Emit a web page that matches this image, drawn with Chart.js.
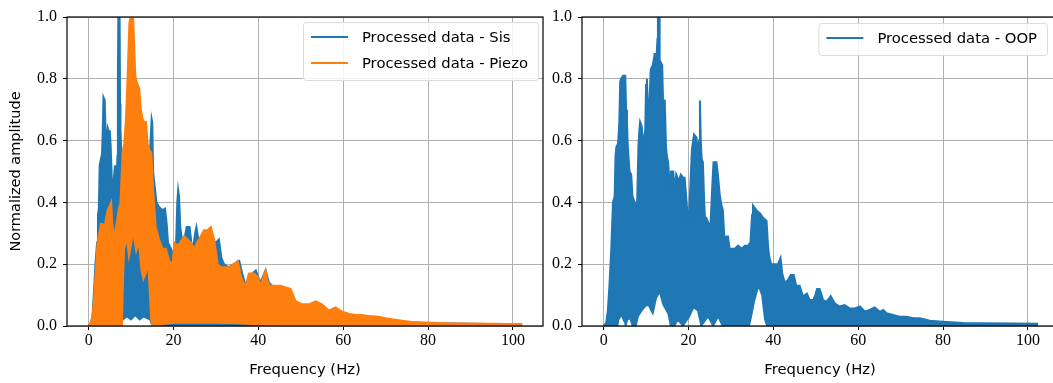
<!DOCTYPE html>
<html>
<head>
<meta charset="utf-8">
<script src="https://cdn.jsdelivr.net/npm/chart.js@4.4.1/dist/chart.umd.min.js"></script>
<style>
  html, body { margin: 0; padding: 0; background: #fff; overflow: hidden; }
  body { width: 1053px; height: 383px; position: relative; }
  canvas { position: absolute; top: 0; }
  #chart-left { left: 0; }
  #chart-right { left: 545px; }
</style>
</head>
<body>
<canvas id="chart-left" width="548" height="383"></canvas>
<canvas id="chart-right" width="515" height="383"></canvas>
<script>
// Spectra envelopes, [frequency (Hz), normalized amplitude]
// The raw FFT lines swing between a floor and a peak envelope, so each
// trace is kept as its two envelopes and the band between them is filled.

const sisPeak = [
  [0, 0], [0.5, 0.01], [0.9, 0.03], [1.3, 0.12], [1.6, 0.2], [2.0, 0.27],
  [2.2, 0.36], [2.4, 0.38], [2.6, 0.52], [2.9, 0.54], [3.1, 0.53], [3.3, 0.62],
  [3.5, 0.74], [3.8, 0.73], [4.0, 0.62], [4.2, 0.6], [4.5, 0.64], [4.7, 0.63],
  [5.0, 0.63], [5.2, 0.58], [5.4, 0.5], [5.6, 0.4], [5.9, 0.47], [6.2, 0.52],
  [6.5, 0.45], [6.8, 0.55], [6.9, 0.8], [7.0, 1.0], [7.3, 1.0], [7.4, 0.72],
  [7.5, 0.64], [7.7, 0.56], [8.0, 0.5], [8.5, 0.47], [9.5, 0.48], [11, 0.45],
  [12.5, 0.46], [13.5, 0.44], [14.2, 0.5], [14.6, 0.6], [14.85, 0.67], [15.0, 0.66],
  [15.2, 0.5], [15.5, 0.46], [16.0, 0.4], [16.6, 0.385], [17.4, 0.375], [18.0, 0.38],
  [18.4, 0.33], [18.7, 0.27], [19.4, 0.25], [20.0, 0.23], [20.6, 0.26], [20.9, 0.4],
  [21.1, 0.44], [21.3, 0.42], [21.6, 0.32], [22.1, 0.27], [22.7, 0.29], [23.1, 0.32],
  [23.8, 0.32], [24.2, 0.27], [24.6, 0.25], [25.1, 0.3], [25.4, 0.32], [26.0, 0.27],
  [27.0, 0.28], [28.0, 0.27], [29.0, 0.28], [30.0, 0.27], [30.7, 0.28], [31.3, 0.22],
  [31.9, 0.2], [33.0, 0.19], [34.2, 0.2], [35.5, 0.21], [36.2, 0.17], [37.0, 0.13],
  [37.8, 0.16], [39.4, 0.18], [40.5, 0.14], [41.7, 0.18], [42.5, 0.14], [44, 0.12],
  [46, 0.11], [48, 0.07], [50, 0.06], [52, 0.06], [55, 0.05], [58, 0.04],
  [62, 0.03], [66, 0.025], [70, 0.018], [75, 0.012], [80, 0.009], [90, 0.007],
  [102.2, 0.005]
];
const sisFloor = [
  [0, 0], [7.8, 0], [8.0, 0.02], [9.0, 0.03], [10.0, 0.02], [11.0, 0.035],
  [12.0, 0.02], [13.0, 0.03], [14.5, 0.02], [15.0, 0], [102.2, 0]
];

const piezoPeak = [
  [0, 0], [0.5, 0.01], [0.9, 0.03], [1.3, 0.09], [1.6, 0.16], [2.1, 0.27],
  [2.5, 0.3], [2.9, 0.33], [3.3, 0.33], [3.7, 0.31], [4.1, 0.35], [4.5, 0.375],
  [5.0, 0.39], [5.3, 0.4], [5.6, 0.33], [6.0, 0.28], [6.3, 0.31], [6.7, 0.34],
  [7.0, 0.37], [7.5, 0.4], [8.0, 0.56], [8.4, 0.59], [8.8, 0.67], [9.2, 0.81],
  [9.6, 0.98], [9.9, 1.0], [10.5, 1.0], [10.8, 0.88], [11.0, 0.81], [11.3, 0.79],
  [11.9, 0.77], [12.3, 0.7], [12.7, 0.67], [13.1, 0.66], [13.5, 0.66], [13.9, 0.59],
  [14.3, 0.57], [14.8, 0.56], [15.2, 0.44], [15.8, 0.32], [16.6, 0.28], [17.4, 0.25],
  [18.2, 0.25], [19.0, 0.21], [19.8, 0.2], [20.2, 0.27], [20.9, 0.26], [21.6, 0.27],
  [22.5, 0.29], [23.3, 0.28], [24.1, 0.27], [24.9, 0.25], [25.6, 0.27], [26.4, 0.29],
  [27.2, 0.31], [28.0, 0.31], [28.8, 0.32], [29.2, 0.3], [29.6, 0.28], [30.0, 0.24],
  [30.4, 0.2], [31.2, 0.19], [32.0, 0.19], [33.1, 0.19], [34.3, 0.2], [35.1, 0.21],
  [35.5, 0.19], [35.9, 0.16], [36.5, 0.14], [37.0, 0.13], [37.8, 0.17], [38.4, 0.17],
  [39.0, 0.17], [39.8, 0.16], [40.6, 0.13], [41.2, 0.16], [41.7, 0.18], [42.1, 0.15],
  [42.5, 0.13], [43.3, 0.13], [44.1, 0.13], [45.3, 0.13], [46.4, 0.125], [47.6, 0.12],
  [48.2, 0.1], [48.8, 0.08], [49.6, 0.075], [50.4, 0.07], [51.9, 0.07], [53.5, 0.08],
  [55.0, 0.07], [56.6, 0.05], [58.2, 0.06], [59.8, 0.046], [61.3, 0.04], [62.9, 0.036],
  [64.5, 0.036], [66.0, 0.032], [68.3, 0.03], [70.0, 0.025], [71.5, 0.022], [73.9, 0.017],
  [76.2, 0.013], [79.4, 0.011], [83.3, 0.009], [87.2, 0.008], [95.0, 0.007], [102.1, 0.006]
];
const piezoFloor = [
  [0, 0], [7.9, 0], [8.1, 0.12], [8.4, 0.25], [9.0, 0.28], [9.5, 0.22],
  [10.0, 0.26], [10.5, 0.3], [11.2, 0.24], [11.8, 0.27], [12.4, 0.18], [12.9, 0.15],
  [13.5, 0.17], [14.0, 0.2], [14.4, 0.1], [14.7, 0.02], [15.0, 0], [17, 0.005],
  [20, 0.01], [25, 0.01], [30, 0.01], [35, 0.008], [40, 0.005], [45, 0],
  [102.1, 0]
];

const oopPeak = [
  [0, 0], [0.6, 0.01], [1.0, 0.05], [1.4, 0.14], [1.8, 0.25], [2.2, 0.4],
  [2.6, 0.42], [2.8, 0.55], [3.0, 0.58], [3.4, 0.59], [3.7, 0.66], [3.9, 0.79],
  [4.1, 0.8], [4.6, 0.81], [5.1, 0.81], [5.3, 0.7], [5.5, 0.66], [5.7, 0.58],
  [6.1, 0.5], [6.5, 0.49], [6.8, 0.42], [7.3, 0.4], [7.9, 0.4], [8.2, 0.58],
  [8.4, 0.63], [8.6, 0.66], [9.0, 0.645], [9.3, 0.55], [9.6, 0.62], [9.8, 0.63],
  [10.0, 0.78], [10.2, 0.8], [10.4, 0.72], [10.8, 0.72], [11.1, 0.83], [11.6, 0.845],
  [11.9, 0.87], [12.0, 0.88], [12.5, 0.88], [12.7, 0.93], [12.8, 1.0], [13.1, 1.0],
  [13.2, 0.86], [13.8, 0.845], [14.0, 0.73], [14.4, 0.73], [14.7, 0.58], [14.9, 0.55],
  [15.2, 0.53], [15.6, 0.44], [15.9, 0.5], [16.4, 0.5], [16.7, 0.44], [17.1, 0.49],
  [17.7, 0.47], [18.2, 0.49], [18.7, 0.48], [19.1, 0.48], [19.5, 0.41], [20.0, 0.32],
  [20.4, 0.44], [20.8, 0.57], [21.3, 0.62], [21.9, 0.61], [22.2, 0.54], [22.5, 0.6],
  [22.7, 0.73], [22.9, 0.6], [23.1, 0.54], [23.4, 0.53], [23.7, 0.4], [23.9, 0.35],
  [24.2, 0.35], [24.8, 0.33], [25.2, 0.33], [25.6, 0.45], [25.9, 0.53], [26.6, 0.53],
  [27.0, 0.48], [27.4, 0.42], [27.8, 0.39], [28.1, 0.375], [28.5, 0.27], [28.9, 0.29],
  [29.3, 0.29], [29.7, 0.25], [30.1, 0.25], [30.9, 0.25], [31.7, 0.26], [32.5, 0.25],
  [33.3, 0.26], [34.0, 0.26], [34.6, 0.27], [35.0, 0.36], [35.2, 0.39], [36.0, 0.375],
  [36.8, 0.365], [37.6, 0.35], [38.4, 0.34], [38.8, 0.25], [39.1, 0.22], [39.5, 0.2],
  [40.3, 0.2], [41.1, 0.2], [41.7, 0.22], [42.1, 0.17], [42.7, 0.14], [43.5, 0.15],
  [44.1, 0.165], [44.8, 0.165], [45.4, 0.13], [46.2, 0.13], [47.0, 0.095], [47.9, 0.105],
  [48.6, 0.084], [49.4, 0.084], [49.9, 0.1], [50.3, 0.12], [50.9, 0.12], [51.4, 0.1],
  [51.7, 0.084], [52.5, 0.079], [53.2, 0.09], [53.5, 0.097], [54.0, 0.085], [54.5, 0.073],
  [55.6, 0.063], [56.8, 0.068], [58.0, 0.057], [59.2, 0.057], [60.4, 0.063], [61.6, 0.046],
  [62.7, 0.052], [63.9, 0.06], [65.1, 0.046], [65.9, 0.052], [66.7, 0.041], [68.2, 0.036],
  [69.8, 0.03], [71.4, 0.03], [73.0, 0.025], [74.5, 0.025], [76.9, 0.017], [80.0, 0.014],
  [84.8, 0.01], [88.7, 0.009], [96.6, 0.008], [102.4, 0.007]
];
const oopFloor = [
  [0, 0], [3.3, 0], [3.5, 0.02], [4.2, 0.035], [5.0, 0.01], [5.2, 0],
  [5.6, 0.02], [6.2, 0.025], [6.8, 0], [7.6, 0], [8.1, 0.03], [9.0, 0.05],
  [9.8, 0.063], [10.5, 0.07], [11.2, 0.05], [11.6, 0.04], [12.4, 0.09], [13.2, 0.11],
  [14.0, 0.07], [15.2, 0.04], [15.8, 0], [16.7, 0], [17.5, 0.02], [18.7, 0],
  [20.2, 0.03], [21.2, 0.06], [22.2, 0.05], [23.0, 0], [24.6, 0.03], [25.8, 0],
  [27.0, 0.03], [28.0, 0], [34.3, 0], [34.8, 0.03], [35.5, 0.08], [36.5, 0.13],
  [37.3, 0.1], [38.0, 0.02], [38.5, 0], [102.4, 0]
];

const freqTicks = [0, 20, 40, 60, 80, 100];
const ampTicks = [0, 0.2, 0.4, 0.6, 0.8, 1.0];

const BLUE = "#1f77b4";
const ORANGE = "#ff7f0e";
const SANS = "'DejaVu Sans', sans-serif";
const SERIF = "'Liberation Serif', 'DejaVu Serif', serif";

Chart.defaults.animation = false;
Chart.defaults.color = "#000";

function points(pairs) {
  return pairs.map(([x, y]) => ({ x, y }));
}

// peak envelope filled down to the floor envelope (next dataset)
function band(label, peak, floor, color) {
  return [
    {
      label,
      data: points(peak),
      borderColor: color,
      backgroundColor: color,
      borderWidth: 2,
      pointRadius: 0,
      tension: 0,
      fill: "+1",
    },
    {
      label: label + " floor",
      data: points(floor),
      borderColor: color,
      borderWidth: 1.5,
      pointRadius: 0,
      tension: 0,
      fill: false,
    },
  ];
}

// black box round the axes plus a matplotlib-style legend in the corner
const axesDecor = {
  id: "axesDecor",
  afterDatasetsDraw(chart) {
    const { ctx, chartArea: a } = chart;
    ctx.save();
    ctx.strokeStyle = "#000";
    ctx.lineWidth = 1.2;
    ctx.strokeRect(a.left, a.top, a.right - a.left, a.bottom - a.top);
    ctx.restore();
  },
  afterDraw(chart, args, opts) {
    const items = opts.items || [];
    if (!items.length) return;
    const ctx = chart.ctx;
    ctx.save();
    ctx.font = "14.8px " + SANS;
    const textW = Math.max(...items.map((it) => ctx.measureText(it.label).width));
    const rowH = 26;
    const w = 59 + textW + 10;
    const h = 15 + rowH * (items.length - 1) + 17;
    const x = opts.right - w;
    const y = opts.top;
    ctx.fillStyle = "rgba(255,255,255,0.85)";
    ctx.strokeStyle = "#dcdcdc";
    ctx.lineWidth = 1;
    ctx.beginPath();
    ctx.roundRect(x + 0.5, y + 0.5, w, h, 3);
    ctx.fill();
    ctx.stroke();
    items.forEach((it, i) => {
      const cy = y + 15 + i * rowH;
      ctx.strokeStyle = it.color;
      ctx.lineWidth = 2;
      ctx.beginPath();
      ctx.moveTo(x + 8, cy);
      ctx.lineTo(x + 45, cy);
      ctx.stroke();
      ctx.fillStyle = "#000";
      ctx.textBaseline = "middle";
      ctx.fillText(it.label, x + 59, cy + 1);
    });
    ctx.restore();
  },
};

function axes(yTitle, yWidth) {
  return {
    x: {
      type: "linear",
      min: -5.1,
      max: 107.1,
      afterBuildTicks: (s) => { s.ticks = freqTicks.map((v) => ({ value: v })); },
      afterFit: (s) => { s.height = 57; },
      ticks: {
        font: { family: SERIF, size: 16 },
        padding: 1,
        maxRotation: 0,
        callback: (v) => String(v),
      },
      grid: { color: "#b0b0b0", lineWidth: 1, tickLength: 4, tickColor: "#000" },
      border: { display: false },
      title: {
        display: true,
        text: "Frequency (Hz)",
        font: { family: SANS, size: 14.8 },
        padding: { top: 0, bottom: 4 },
      },
    },
    y: {
      type: "linear",
      min: 0,
      max: 1,
      afterBuildTicks: (s) => { s.ticks = ampTicks.map((v) => ({ value: v })); },
      afterFit: (s) => { s.width = yWidth; },
      ticks: {
        font: { family: SERIF, size: 16 },
        padding: 6,
        callback: (v) => v.toFixed(1),
      },
      grid: { color: "#b0b0b0", lineWidth: 1, tickLength: 4, tickColor: "#000" },
      border: { display: false },
      title: {
        display: !!yTitle,
        text: yTitle,
        font: { family: SANS, size: 14.5 },
        padding: { top: 8, bottom: 0 },
      },
    },
  };
}

new Chart(document.getElementById("chart-left"), {
  type: "line",
  data: {
    datasets: [
      ...band("Processed data - Piezo", piezoPeak, piezoFloor, ORANGE),
      ...band("Processed data - Sis", sisPeak, sisFloor, BLUE),
    ],
  },
  options: {
    responsive: false,
    devicePixelRatio: 1,
    parsing: false,
    layout: { padding: { top: 17, right: 5, bottom: 0, left: 0 } },
    scales: axes("Normalized amplitude", 67),
    plugins: {
      legend: { display: false },
      tooltip: { enabled: false },
      axesDecor: {
        right: 538,
        top: 22,
        items: [
          { label: "Processed data - Sis", color: BLUE },
          { label: "Processed data - Piezo", color: ORANGE },
        ],
      },
    },
  },
  plugins: [axesDecor],
});

new Chart(document.getElementById("chart-right"), {
  type: "line",
  data: {
    datasets: band("Processed data - OOP", oopPeak, oopFloor, BLUE),
  },
  options: {
    responsive: false,
    devicePixelRatio: 1,
    parsing: false,
    layout: { padding: { top: 17, right: 2, bottom: 0, left: 0 } },
    scales: axes("", 37),
    plugins: {
      legend: { display: false },
      tooltip: { enabled: false },
      axesDecor: {
        right: 502,
        top: 23,
        items: [{ label: "Processed data - OOP", color: BLUE }],
      },
    },
  },
  plugins: [axesDecor],
});
</script>
</body>
</html>
